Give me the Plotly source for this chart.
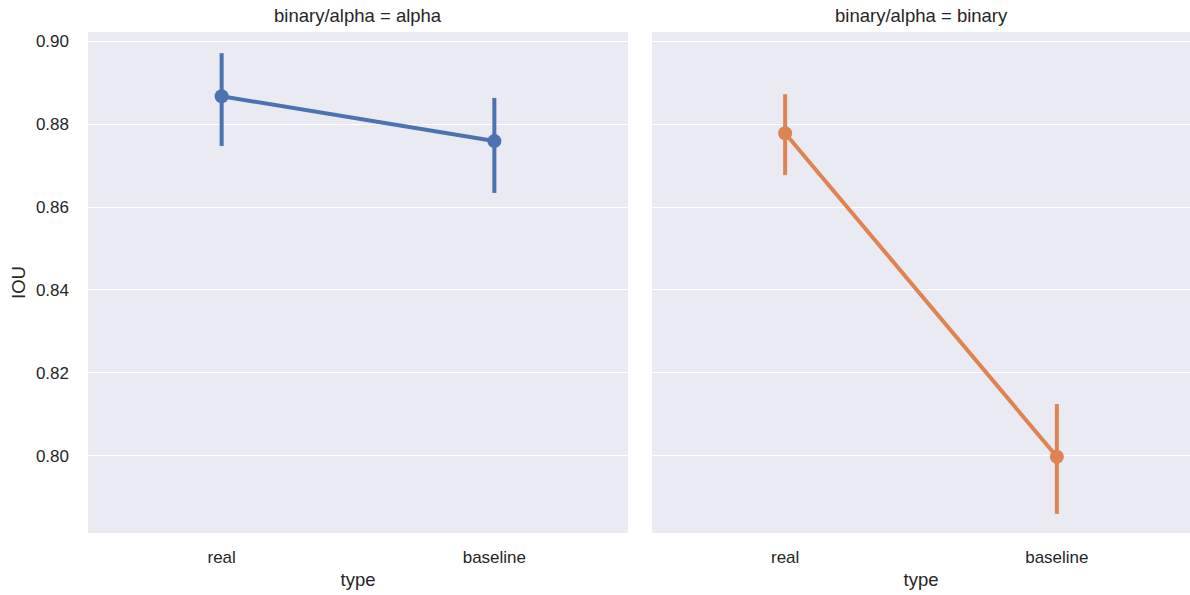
import plotly.graph_objects as go

categories = ["real", "baseline"]
alpha_mean = [0.8867, 0.8759]
alpha_lo = [0.8747, 0.8634]
alpha_hi = [0.8971, 0.8863]
binary_mean = [0.8778, 0.7998]
binary_lo = [0.8677, 0.7860]
binary_hi = [0.8872, 0.8125]
yticks = [0.80, 0.82, 0.84, 0.86, 0.88, 0.90]

BLUE = "#4C72B0"
ORANGE = "#DD8452"
FONT = "Liberation Sans, Arial, sans-serif"
TXT = "#262626"

fig = go.Figure()

def add(means, lo, hi, color, xa, ya):
    fig.add_trace(go.Scatter(
        x=categories, y=means, mode="lines+markers",
        line=dict(color=color, width=4),
        marker=dict(color=color, size=14),
        error_y=dict(type="data", symmetric=False,
                     array=[h - m for h, m in zip(hi, means)],
                     arrayminus=[m - l for m, l in zip(means, lo)],
                     color=color, thickness=4, width=0),
        xaxis=xa, yaxis=ya, showlegend=False, hoverinfo="skip"))

add(alpha_mean, alpha_lo, alpha_hi, BLUE, "x", "y")
add(binary_mean, binary_lo, binary_hi, ORANGE, "x2", "y2")

W = 1102
yr = [0.7814, 0.9022]
common_x = dict(type="category", categoryorder="array", categoryarray=categories,
                range=[-0.49, 1.49], showgrid=False, zeroline=False,
                tickfont=dict(size=17, color=TXT), ticks="", ticklabelstandoff=12,
                title=dict(text="type", font=dict(size=18.5, color=TXT), standoff=7))
common_y = dict(range=yr, tickvals=yticks, ticktext=["%.2f" % v for v in yticks],
                gridcolor="white", gridwidth=1.3, zeroline=False, ticks="")

fig.update_layout(
    width=1190, height=595,
    margin=dict(l=88, r=0, t=32, b=62),
    paper_bgcolor="white", plot_bgcolor="#EAEAF2",
    font=dict(family=FONT, color=TXT),
    xaxis=dict(domain=[0, 540 / W], anchor="y", **common_x),
    xaxis2=dict(domain=[564 / W, 1], anchor="y2", **common_x),
    yaxis=dict(anchor="x", tickfont=dict(size=17, color=TXT), ticklabelstandoff=18,
               title=dict(text="IOU", font=dict(size=18.5, color=TXT), standoff=5),
               **common_y),
    yaxis2=dict(anchor="x2", showticklabels=False, matches="y", **common_y),
    annotations=[
        dict(text="binary/alpha = alpha", x=270 / W, y=1, xref="paper", yref="paper",
             xanchor="center", yanchor="bottom", yshift=4, showarrow=False,
             font=dict(size=18.5, color=TXT)),
        dict(text="binary/alpha = binary", x=(564 + 269) / W, y=1, xref="paper", yref="paper",
             xanchor="center", yanchor="bottom", yshift=4, showarrow=False,
             font=dict(size=18.5, color=TXT)),
    ],
)

fig.write_html("out.html")
